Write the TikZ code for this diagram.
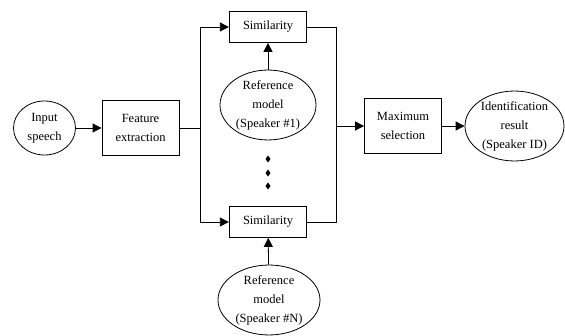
\documentclass[tikz,border=0pt]{standalone}
\usepackage{fontspec}
\setmainfont{Liberation Serif}
\usetikzlibrary{shapes.geometric,arrows.meta}

\tikzset{
  blk/.style={draw, line width=0.8pt, inner sep=0pt, align=center,
    font=\fontsize{12.5}{19}\selectfont},
  oval/.style={blk, ellipse},
  arr/.style={-{Triangle[length=9pt,width=9pt]}, line width=0.8pt},
  wire/.style={line width=0.8pt}
}

\begin{document}
\begin{tikzpicture}[x=1pt, y=-1pt]
        \useasboundingbox (0,0) rectangle (565,336);

        \node[oval, minimum width=62pt, minimum height=54pt] (inp) at (44.5,128) {Input\\speech};
        \node[blk, minimum width=77pt, minimum height=55pt] (feat) at (140.5,128) {Feature\\extraction};
        \node[blk, minimum width=77.5pt, minimum height=31pt] (sim1) at (268,27) {Similarity};
        \node[blk, minimum width=77.5pt, minimum height=31pt] (simN) at (268,222) {Similarity};
        \node[oval, minimum width=96pt, minimum height=65pt] (ref1) at (268,105) {Reference\\model\\(Speaker \#1)};
        \node[oval, minimum width=102pt, minimum height=68pt] (refN) at (269,300) {Reference\\model\\(Speaker \#N)};
        \node[blk, minimum width=77pt, minimum height=55pt] (maxsel) at (403,126) {Maximum\\selection};
        \node[oval, minimum width=99pt, minimum height=64pt] (ident) at (514.5,126) {Identification\\result\\(Speaker ID)};

        \coordinate (split) at (200.7,128);
        \coordinate (merge) at (336,126);

        % front end
        \draw[arr] (inp) -- (feat);
        \draw[wire] (feat) -- (split);
        \draw[arr] (split) |- (sim1);
        \draw[arr] (split) |- (simN);

        % reference models
        \draw[arr] (ref1) -- (sim1);
        \draw[arr] (refN) -- (simN);
        \foreach \y in {159,173,186}
          \fill (268,\y) ++(0,-3.5) -- ++(2.5,3.5) -- ++(-2.5,3.5) -- ++(-2.5,-3.5) -- cycle;

        % decision
        \draw[wire] (sim1) -| (merge);
        \draw[wire] (simN) -| (merge);
        \draw[arr] (merge) -- (maxsel);
        \draw[arr] (maxsel) -- (ident);
    \end{tikzpicture}
\end{document}
